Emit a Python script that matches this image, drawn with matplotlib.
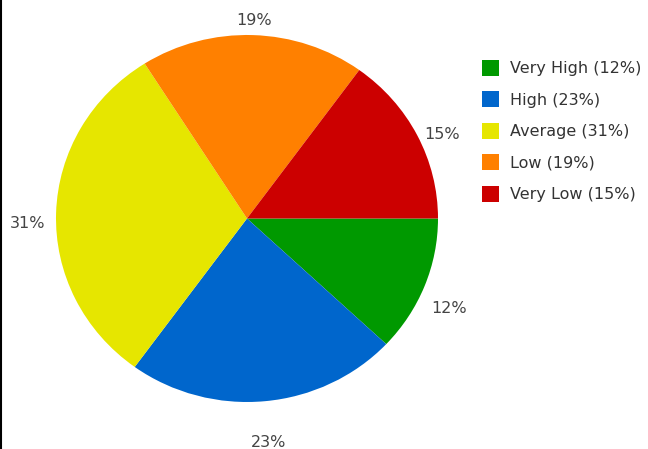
import numpy as np
import matplotlib
matplotlib.use("Agg")
import matplotlib.pyplot as plt
from matplotlib.lines import Line2D

categories = ["Very High", "High", "Average", "Low", "Very Low"]
values = [12, 23, 31, 19, 15]
colors = ["#009900", "#0066CC", "#E6E600", "#FF8000", "#CC0000"]

# label placement style (radial distance and small angular nudge)
label_dist = [1.163, 1.218, 1.147, 1.083, 1.122]
label_nudge = [-2.9, -0.2, 2.75, -0.1, -2.5]

W, H = 648, 449
fig = plt.figure(figsize=(W / 100, H / 100), dpi=100)
fig.patch.set_facecolor("white")

cx, cy, rx, ry = 247, 218.5, 191, 183.5
ax = fig.add_axes([(cx - rx) / W, (H - cy - ry) / H, 2 * rx / W, 2 * ry / H])
wedges, _ = ax.pie(values, colors=colors, startangle=0, counterclock=False,
                   wedgeprops=dict(linewidth=0))
ax.set_aspect("auto")
ax.set_xlim(-1, 1)
ax.set_ylim(-1, 1)
ax.axis("off")

for w, v, d, n in zip(wedges, values, label_dist, label_nudge):
    ang = np.deg2rad((w.theta1 + w.theta2) / 2 + n)
    ax.text(d * np.cos(ang), d * np.sin(ang) - 0.006, f"{v}%", ha="center", va="center",
            fontsize=11.5, color="#444444", clip_on=False)

handles = wedges
labels = [f"{c} ({v}%)" for c, v in zip(categories, values)]
fig.legend(handles, labels, loc="upper left", bbox_to_anchor=(475.6 / W, 1 - 53.5 / H),
           frameon=False, fontsize=11.5, handlelength=1.06, handleheight=1.15,
           handletextpad=0.7, labelspacing=0.95, labelcolor="#333333", borderaxespad=0)

fig.add_artist(Line2D([1 / W, 1 / W], [0, 1], color="black", linewidth=1.5,
                      transform=fig.transFigure))

fig.savefig("out.png", dpi=100)
